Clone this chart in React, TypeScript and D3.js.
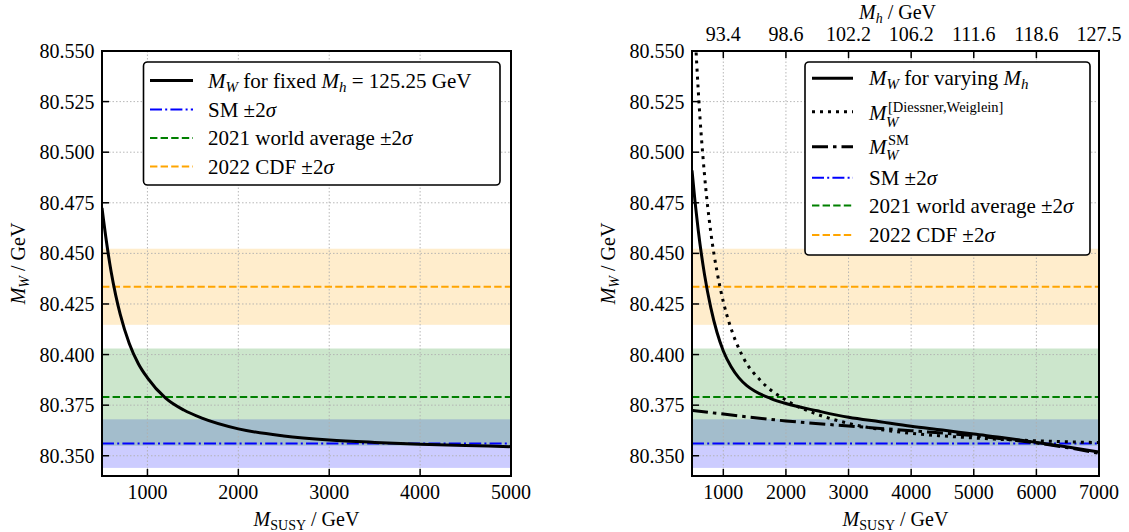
import React from "react";
import * as d3 from "d3";

// ---------------- data ----------------
const yTicks = [80.35, 80.375, 80.4, 80.425, 80.45, 80.475, 80.5, 80.525, 80.55];
const leftXTicks = [1000, 2000, 3000, 4000, 5000];
const rightXTicks = [1000, 2000, 3000, 4000, 5000, 6000, 7000];
const topTickLabels = ["93.4", "98.6", "102.2", "106.2", "111.6", "118.6", "127.5"];

const smBand = [80.344, 80.368];
const smCentral = 80.356;
const waBand = [80.355, 80.403];
const waCentral = 80.379;
const cdfBand = [80.4147, 80.4523];
const cdfCentral = 80.4335;

// left panel: M_W for fixed M_h = 125.25 GeV
const leftMsusy = [500, 550, 600, 650, 700, 800, 900, 1000, 1200, 1400, 1600, 2000, 2500, 3000, 3500, 4000, 4500, 5000];
const leftMW = [80.4725, 80.4555, 80.441, 80.4295, 80.42, 80.4055, 80.3955, 80.3885, 80.3785, 80.3726, 80.3686, 80.3633, 80.3598, 80.3578, 80.3566, 80.3557, 80.3551, 80.3545];

// right panel: M_W for varying M_h
const varMsusy = [500, 550, 600, 700, 800, 900, 1000, 1125, 1250, 1375, 1500, 1750, 2000, 2500, 3000, 3500, 4000, 4500, 5000, 5500, 6000, 6500, 7000];
const varMW = [80.491, 80.4751, 80.4614, 80.4395, 80.4232, 80.4109, 80.4018, 80.394, 80.3885, 80.3847, 80.382, 80.3784, 80.3758, 80.3722, 80.369, 80.3668, 80.3646, 80.3627, 80.3607, 80.3588, 80.3566, 80.3543, 80.3518];

// right panel: M_W [Diessner, Weiglein]
const dwMsusy = [500, 550, 600, 700, 800, 900, 1000, 1100, 1300, 1600, 2000, 2500, 3000, 3500, 4000, 4500, 5000, 5500, 6000, 6500, 7000];
const dwMW = [80.5967, 80.5593, 80.5304, 80.4887, 80.4605, 80.4409, 80.4261, 80.4151, 80.3996, 80.387, 80.3775, 80.3705, 80.366, 80.363, 80.3611, 80.3598, 80.3588, 80.358, 80.3574, 80.3569, 80.3565];

// right panel: M_W SM
const smMsusy = [500, 1000, 2000, 3000, 4000, 5000, 6000, 6500, 7000];
const smMW = [80.3724, 80.3706, 80.3672, 80.3647, 80.3624, 80.3599, 80.3563, 80.354, 80.3512];

// ---------------- layout ----------------
const W = 1129;
const H = 532;
const FONT = "Liberation Serif, DejaVu Serif, serif";
const Y_TOP = 51;
const Y_BOT = 476;
const Y_DOMAIN: [number, number] = [80.34, 80.55];

type Curve = { xs: number[]; ys: number[]; dash?: string; width: number };
type Part = [string, "r" | "i" | "sub" | "subr"];
type LegendItem = { y: number; color: string; width: number; dash?: string; parts: Part[] | null };

function MathParts({ parts, subSize = 14 }: { parts: Part[]; subSize?: number }) {
  let inSub = false;
  return (
    <>
      {parts.map(([txt, kind], i) => {
        const isSub = kind === "sub" || kind === "subr";
        let dy = 0;
        if (isSub && !inSub) dy = 4;
        if (!isSub && inSub) dy = -4;
        inSub = isSub;
        return (
          <tspan
            key={i}
            dy={dy || undefined}
            fontStyle={kind === "i" || kind === "sub" ? "italic" : "normal"}
            fontSize={isSub ? subSize : undefined}
          >
            {txt}
          </tspan>
        );
      })}
    </>
  );
}

const SIGMA = "\u03c3";
const sigmaParts = (txt: string): Part[] => [[txt + " \u00b12", "r"], [SIGMA, "i"]];

function Panel(props: {
  id: string;
  x0: number;
  x1: number;
  xDomain: [number, number];
  xTicks: number[];
  topLabels?: string[];
  curves: Curve[];
  legendBox: [number, number, number, number];
  handleX: [number, number];
  textX: number;
  legend: LegendItem[];
  extraLegend?: React.ReactNode;
  ylabelX: number;
}) {
  const { id, x0, x1, xDomain, xTicks, topLabels, curves, legendBox, handleX, textX, legend } = props;
  const xs = d3.scaleLinear().domain(xDomain).range([x0, x1]);
  const ys = d3.scaleLinear().domain(Y_DOMAIN).range([Y_BOT, Y_TOP]);
  const line = (c: Curve) =>
    d3
      .line<number>()
      .x((_, i) => xs(c.xs[i]))
      .y((d) => ys(d))
      .curve(d3.curveMonotoneX)(c.ys) || "";
  const band = (b: number[], color: string) => (
    <rect x={x0} width={x1 - x0} y={ys(b[1])} height={ys(b[0]) - ys(b[1])} fill={color} fillOpacity={0.2} />
  );
  const hline = (v: number, color: string, dash: string) => (
    <line x1={x0} x2={x1} y1={ys(v)} y2={ys(v)} stroke={color} strokeWidth={2} strokeDasharray={dash} />
  );
  const cx = (x0 + x1) / 2;
  const cy = (Y_TOP + Y_BOT) / 2;
  return (
    <g>
      <defs>
        <clipPath id={id}>
          <rect x={x0} y={Y_TOP} width={x1 - x0} height={Y_BOT - Y_TOP} />
        </clipPath>
      </defs>
      {band(smBand, "#0000ff")}
      {band(waBand, "#008000")}
      {band(cdfBand, "#ffa500")}
      {xTicks.map((t) => (
        <line key={"gx" + t} x1={xs(t)} x2={xs(t)} y1={Y_TOP} y2={Y_BOT} stroke="#b0b0b0" strokeWidth={0.9} strokeDasharray="1.5 2" />
      ))}
      {yTicks.map((t) => (
        <line key={"gy" + t} x1={x0} x2={x1} y1={ys(t)} y2={ys(t)} stroke="#b0b0b0" strokeWidth={0.9} strokeDasharray="1.5 2" />
      ))}
      {hline(smCentral, "#0000ff", "12 3.2 2 3.2")}
      {hline(waCentral, "#008000", "7.4 3.2")}
      {hline(cdfCentral, "#ffa500", "7.4 3.2")}
      <g clipPath={`url(#${id})`}>
        {curves.map((c, i) => (
          <path key={i} d={line(c)} fill="none" stroke="#000" strokeWidth={c.width} strokeDasharray={c.dash} />
        ))}
      </g>
      <rect x={x0} y={Y_TOP} width={x1 - x0} height={Y_BOT - Y_TOP} fill="none" stroke="#000" strokeWidth={2} />
      {xTicks.map((t) => (
        <g key={"tx" + t}>
          <line x1={xs(t)} x2={xs(t)} y1={Y_BOT} y2={Y_BOT - 7} stroke="#000" strokeWidth={1.5} />
          <text x={xs(t)} y={499} textAnchor="middle" fontSize={20}>{t}</text>
        </g>
      ))}
      {topLabels &&
        xTicks.map((t, i) => (
          <g key={"tt" + t}>
            <line x1={xs(t)} x2={xs(t)} y1={Y_TOP} y2={Y_TOP + 7} stroke="#000" strokeWidth={1.5} />
            <text x={xs(t)} y={41} textAnchor="middle" fontSize={20}>{topLabels[i]}</text>
          </g>
        ))}
      {yTicks.map((t) => (
        <g key={"ty" + t}>
          <line x1={x0} x2={x0 + 7} y1={ys(t)} y2={ys(t)} stroke="#000" strokeWidth={1.5} />
          <text x={x0 - 7.5} y={ys(t) + 7} textAnchor="end" fontSize={20}>{d3.format(".3f")(t)}</text>
        </g>
      ))}
      <text x={cx} y={526} textAnchor="middle" fontSize={20}>
        <MathParts parts={[["M", "i"], ["SUSY", "subr"], [" / GeV", "r"]]} />
      </text>
      <text transform={`translate(${props.ylabelX},${cy}) rotate(-90)`} textAnchor="middle" fontSize={20}>
        <MathParts parts={[["M", "i"], ["W", "sub"], [" / GeV", "r"]]} />
      </text>
      {topLabels && (
        <text x={cx + 2} y={19} textAnchor="middle" fontSize={20}>
          <MathParts parts={[["M", "i"], ["h", "sub"], [" / GeV", "r"]]} />
        </text>
      )}
      <rect x={legendBox[0]} y={legendBox[1]} width={legendBox[2] - legendBox[0]} height={legendBox[3] - legendBox[1]} rx={4} fill="#fff" stroke="#000" strokeWidth={1.6} />
      {legend.map((it, i) => (
        <g key={"lg" + i}>
          <line x1={handleX[0]} x2={handleX[1]} y1={it.y} y2={it.y} stroke={it.color} strokeWidth={it.width} strokeDasharray={it.dash} />
          {it.parts && (
            <text x={textX} y={it.y + 7} fontSize={21}>
              <MathParts parts={it.parts} subSize={15} />
            </text>
          )}
        </g>
      ))}
      {props.extraLegend}
    </g>
  );
}

export default function App() {
  const leftCurves: Curve[] = [{ xs: leftMsusy, ys: leftMW, width: 3 }];
  const rightCurves: Curve[] = [
    { xs: smMsusy, ys: smMW, width: 3, dash: "16 5 3.5 5" },
    { xs: dwMsusy, ys: dwMW, width: 3, dash: "3 5" },
    { xs: varMsusy, ys: varMW, width: 3 },
  ];
  const leftLegend: LegendItem[] = [
    {
      y: 80.5,
      color: "#000",
      width: 3,
      parts: [["M", "i"], ["W", "sub"], [" for fixed ", "r"], ["M", "i"], ["h", "sub"], [" = 125.25 GeV", "r"]],
    },
    { y: 109.5, color: "#0000ff", width: 2, dash: "12 3.2 2 3.2", parts: sigmaParts("SM") },
    { y: 138, color: "#008000", width: 2, dash: "7.4 3.2", parts: sigmaParts("2021 world average") },
    { y: 166.5, color: "#ffa500", width: 2, dash: "7.4 3.2", parts: sigmaParts("2022 CDF") },
  ];
  const rightLegend: LegendItem[] = [
    {
      y: 78.3,
      color: "#000",
      width: 3,
      parts: [["M", "i"], ["W", "sub"], [" for varying ", "r"], ["M", "i"], ["h", "sub"]],
    },
    { y: 111.7, color: "#000", width: 3, dash: "3 5", parts: null },
    { y: 146.7, color: "#000", width: 3, dash: "16 5 3.5 5", parts: null },
    { y: 177.7, color: "#0000ff", width: 2, dash: "12 3.2 2 3.2", parts: sigmaParts("SM") },
    { y: 205.5, color: "#008000", width: 2, dash: "7.4 3.2", parts: sigmaParts("2021 world average") },
    { y: 235, color: "#ffa500", width: 2, dash: "7.4 3.2", parts: sigmaParts("2022 CDF") },
  ];
  const rightExtra = (
    <g>
      <text x={869} y={120} fontSize={21} fontStyle="italic">M</text>
      <text x={888} y={111.5} fontSize={14.5}>[Diessner,Weiglein]</text>
      <text x={886} y={127} fontSize={15} fontStyle="italic">W</text>
      <text x={869} y={153.5} fontSize={21} fontStyle="italic">M</text>
      <text x={888} y={144.5} fontSize={14.5}>SM</text>
      <text x={886} y={160} fontSize={15} fontStyle="italic">W</text>
    </g>
  );
  return (
    <svg
      width={W}
      height={H}
      fontFamily={FONT}
      style={{ position: "absolute", left: 0, top: 0, background: "#fff" }}
      xmlns="http://www.w3.org/2000/svg"
    >
      <rect width={W} height={H} fill="#fff" />
      <Panel
        id="clipL"
        x0={102}
        x1={511}
        xDomain={[500, 5000]}
        xTicks={leftXTicks}
        curves={leftCurves}
        legendBox={[143.5, 62, 500, 185]}
        handleX={[150, 193]}
        textX={208}
        legend={leftLegend}
        ylabelX={25}
      />
      <Panel
        id="clipR"
        x0={692}
        x1={1099}
        xDomain={[500, 7000]}
        xTicks={rightXTicks}
        topLabels={topTickLabels}
        curves={rightCurves}
        legendBox={[805, 62, 1090, 255]}
        handleX={[812, 853]}
        textX={869}
        legend={rightLegend}
        extraLegend={rightExtra}
        ylabelX={615}
      />
    </svg>
  );
}
